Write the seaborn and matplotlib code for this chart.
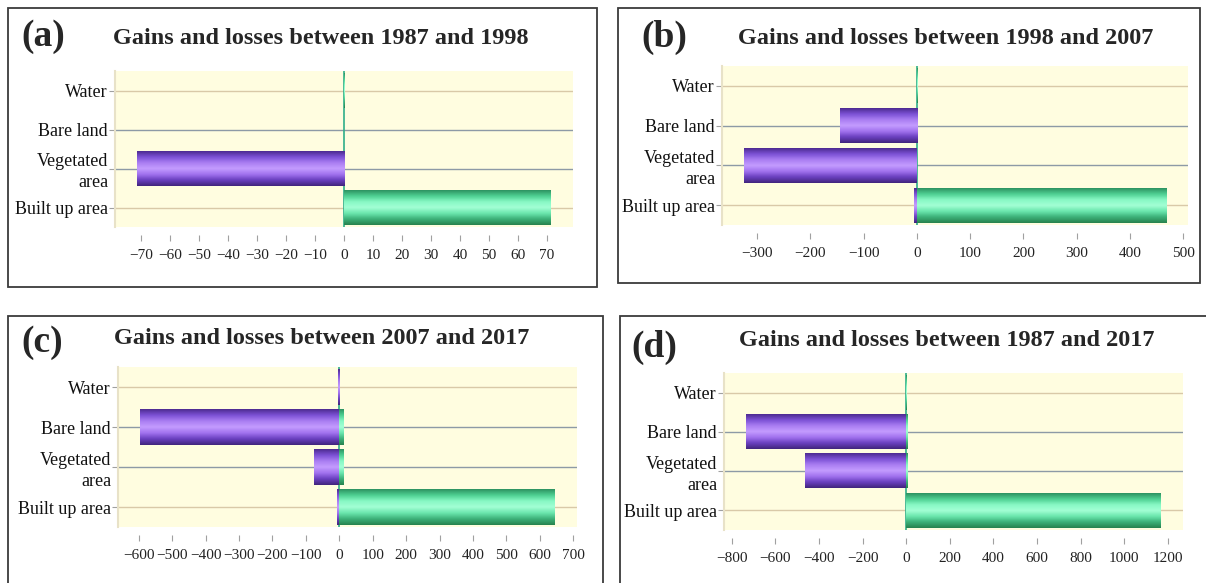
import numpy as np
import pandas as pd
import matplotlib
matplotlib.use("Agg")
import matplotlib.pyplot as plt
import seaborn as sns
from matplotlib.colors import LinearSegmentedColormap
from matplotlib.patches import Rectangle

sns.set_style("white")
plt.rcParams['font.family'] = ['Liberation Serif', 'DejaVu Serif']

categories = ['Water', 'Bare land', 'Vegetated\narea', 'Built up area']

# losses / gains per period
a_losses = [0, 0, -71.5, 0]
a_gains = [0.3, 0, 0, 71.4]
b_losses = [0, -145, -324, -5]
b_gains = [0.5, 0, 0, 469]
c_losses = [-3, -596, -75, -8]
c_gains = [0, 12, 12, 644]
d_losses = [0, -736, -466, 0]
d_gains = [3, 5, 5, 1169]

panels = [
    ('(a)', 'Gains and losses between 1987 and 1998', a_losses, a_gains,
     list(range(-70, 71, 10)), (-79, 79)),
    ('(b)', 'Gains and losses between 1998 and 2007', b_losses, b_gains,
     list(range(-300, 501, 100)), (-366, 509)),
    ('(c)', 'Gains and losses between 2007 and 2017', c_losses, c_gains,
     list(range(-600, 701, 100)), (-662, 711)),
    ('(d)', 'Gains and losses between 1987 and 2017', d_losses, d_gains,
     list(range(-800, 1201, 200)), (-836, 1270)),
]

W, H = 1206, 583
# axes boxes in pixels: left, right, top, bottom
ax_px = [(115, 573, 71, 227), (722, 1188, 66, 225),
         (118, 577, 367, 527), (724, 1183, 373, 530)]
box_px = [(8, 597, 8, 287), (618, 1200, 8, 283),
          (8, 603, 316, 590), (620, 1210, 316, 590)]
title_px = [(321, 39), (946, 39), (322, 339), (947, 341)]
label_px = [(21, 37), (641, 37), (21, 342), (631, 347)]

purple_cmap = LinearSegmentedColormap.from_list(
    'pur', ['#4e2c92', '#7d52d6', '#aa7ef2', '#c49cff', '#a172ee', '#6a40c0', '#42257e'])
green_cmap = LinearSegmentedColormap.from_list(
    'grn', ['#2e9462', '#4fd093', '#88f8c4', '#a3ffd5', '#6ae6ad', '#3db179', '#28834f'])

fig = plt.figure(figsize=(W / 100, H / 100), dpi=100)

for i, (lab, title, losses, gains, ticks, xlim) in enumerate(panels):
    l, r, t, b = ax_px[i]
    ax = fig.add_axes([l / W, 1 - b / H, (r - l) / W, (b - t) / H])

    df = pd.DataFrame({
        'category': categories * 2,
        'value': losses + gains,
        'kind': ['loss'] * 4 + ['gain'] * 4,
    })
    sns.barplot(data=df, x='value', y='category', hue='kind', dodge=False,
                palette={'loss': '#7a4fd2', 'gain': '#48c98e'}, width=0.88,
                legend=False, ax=ax, zorder=3, linewidth=0)

    ax.set_facecolor('#fffde0')
    ax.set_xlim(*xlim)
    ax.set_ylim(3.5, -0.5)

    # cylinder shading on each bar
    grad = np.linspace(0, 1, 64).reshape(-1, 1)
    for p in list(ax.patches):
        x0, y0 = p.get_x(), p.get_y()
        w, h = p.get_width(), p.get_height()
        if abs(w) < 1e-9:
            continue
        cm = purple_cmap if w < 0 else green_cmap
        ax.imshow(grad, cmap=cm, aspect='auto', zorder=4,
                  extent=[x0, x0 + w, y0 + h, y0], interpolation='bilinear')
    ax.set_xlim(*xlim)
    ax.set_ylim(3.5, -0.5)

    for k in range(4):
        ax.axhline(k, color='#8d9aa6' if k in (1, 2) else '#d9c9a8',
                   lw=1.0, zorder=1)
    ax.axvline(0, color='#2fae8a', lw=1.2, zorder=2)

    ax.set_xticks(ticks)
    ax.set_xticklabels([f'{v}'.replace('-', '\u2212') for v in ticks])
    ax.set_yticks(range(4), categories, multialignment='right', linespacing=1.3)
    ax.set_xlabel('')
    ax.set_ylabel('')
    ax.tick_params(axis='x', length=4, color='#a0a0a0', labelsize=11,
                   labelcolor='#222222', pad=6, bottom=True)
    ax.tick_params(axis='y', length=4, color='#a0a0a0', labelsize=13,
                   labelcolor='#111111', pad=1, left=True)
    for s in ['top', 'right', 'bottom']:
        ax.spines[s].set_visible(False)
    ax.spines['bottom'].set_position(('outward', 6))
    ax.spines['left'].set_color('#e8e2c8')
    ax.spines['left'].set_linewidth(1.5)

    bl, br, bt, bb = box_px[i]
    fig.patches.append(Rectangle((bl / W, 1 - bb / H), (br - bl) / W, (bb - bt) / H,
                                 transform=fig.transFigure, fill=False,
                                 edgecolor='#3a3a3a', lw=1.3, zorder=0))
    tx, ty = title_px[i]
    fig.text(tx / W, 1 - ty / H, title, ha='center', va='center',
             fontsize=17.5, fontweight='bold')
    lx, ly = label_px[i]
    fig.text(lx / W, 1 - ly / H, lab, ha='left', va='center',
             fontsize=27, fontweight='bold')

fig.savefig('out.png', dpi=100, facecolor='white')
